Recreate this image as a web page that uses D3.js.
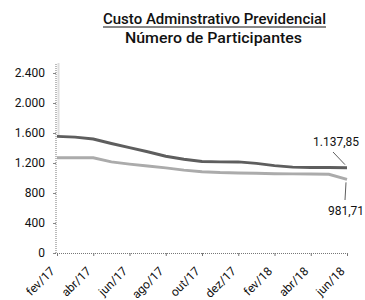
<!DOCTYPE html>
<html><head><meta charset="utf-8">
<script src="https://cdn.jsdelivr.net/npm/d3@7"></script>
<style>body{margin:0;background:#fff}svg{display:block}</style>
</head><body>
<svg id="c" width="365" height="300"></svg>
<script>
const months = ["fev/17","mar/17","abr/17","mai/17","jun/17","jul/17","ago/17","set/17","out/17","nov/17","dez/17","jan/18","fev/18","mar/18","abr/18","mai/18","jun/18"];
const tickLabels = ["fev/17","abr/17","jun/17","ago/17","out/17","dez/17","fev/18","abr/18","jun/18"];
const custo = [1555,1545,1520,1460,1405,1350,1290,1250,1220,1215,1215,1195,1165,1145,1140,1140,1137.85];
const participantes = [1270,1270,1270,1215,1185,1160,1135,1105,1082,1072,1068,1062,1058,1055,1055,1050,981.71];
const yTicks = [0,400,800,1200,1600,2000,2400];
const title1 = "Custo Adminstrativo Previdencial";
const title2 = "Número de Participantes";

const loc = d3.formatLocale({decimal:",", thousands:".", grouping:[3], currency:["",""]});
const fmtInt = loc.format(",d");
const fmtVal = loc.format(",.2f");

const svg = d3.select("#c");
const x = d3.scalePoint().domain(months).range([57, 347]);
const y = d3.scaleLinear().domain([0, 2400]).range([253, 73]);
const font = "Roboto, 'Open Sans', sans-serif";

// titles
svg.append("text").attr("x", 214.5).attr("y", 24).attr("text-anchor","middle")
  .attr("font-family", font).attr("font-weight", 500).attr("font-size", 14)
  .attr("textLength", 223).attr("lengthAdjust","spacingAndGlyphs")
  .attr("fill","#111").text(title1);
svg.append("line").attr("x1",103).attr("x2",326).attr("y1",27).attr("y2",27)
  .attr("stroke","#111").attr("stroke-width",1);
svg.append("text").attr("x", 213.5).attr("y", 43).attr("text-anchor","middle")
  .attr("font-family", font).attr("font-weight", 500).attr("font-size", 14)
  .attr("textLength", 177).attr("lengthAdjust","spacingAndGlyphs")
  .attr("fill","#111").text(title2);

// y axis
const yAxis = d3.axisLeft(y).tickValues(yTicks).tickFormat(fmtInt).tickSize(3).tickPadding(8);
const gy = svg.append("g").attr("transform","translate(56,0)").call(yAxis);
gy.select(".domain").remove();
gy.selectAll(".tick line").attr("stroke","#888");
gy.selectAll(".tick text").attr("font-family", font).attr("font-size", 12).attr("fill","#111");
svg.append("line").attr("x1",56).attr("x2",56).attr("y1",64).attr("y2",253)
  .attr("stroke","#777").attr("stroke-dasharray","1,1");
svg.append("line").attr("x1",58.5).attr("x2",58.5).attr("y1",63).attr("y2",135)
  .attr("stroke","#ddd").attr("stroke-width",2);

// x axis
const xAxis = d3.axisBottom(x).tickValues(tickLabels).tickSize(3).tickFormat(d=>d);
const gx = svg.append("g").attr("transform","translate(0,253)").call(xAxis);
gx.select(".domain").attr("stroke","#777").attr("stroke-dasharray","1,1").attr("d","M55,0.5H347");
gx.selectAll(".tick line").attr("stroke","#777");
gx.selectAll(".tick text").attr("font-family", font).attr("font-size", 12).attr("fill","#111")
  .attr("text-anchor","end").attr("dy",null).attr("y",0)
  .attr("transform","translate(-2,19) rotate(-45)");

// lines
const line = d3.line().x((d,i)=>x(months[i])).y(d=>y(d));
svg.append("path").datum(participantes).attr("d", line).attr("fill","none")
  .attr("stroke","#ababab").attr("stroke-width",3);
svg.append("path").datum(custo).attr("d", line).attr("fill","none")
  .attr("stroke","#5e5e5e").attr("stroke-width",3);

// data labels
const lastC = custo[custo.length-1], lastP = participantes[participantes.length-1];
const lx = x(months[months.length-1]);
svg.append("line").attr("x1",333).attr("y1",152).attr("x2",lx-2).attr("y2",y(lastC)-3)
  .attr("stroke","#333").attr("stroke-width",0.8);
svg.append("text").attr("x",336).attr("y",146).attr("text-anchor","middle")
  .attr("font-family", font).attr("font-size", 12).attr("fill","#111").text(fmtVal(lastC));
svg.append("line").attr("x1",lx-1).attr("y1",y(lastP)+3).attr("x2",lx-2).attr("y2",200)
  .attr("stroke","#333").attr("stroke-width",0.8);
svg.append("text").attr("x",346).attr("y",215).attr("text-anchor","middle")
  .attr("font-family", font).attr("font-size", 12).attr("fill","#111").text(fmtVal(lastP));
</script>
</body></html>
